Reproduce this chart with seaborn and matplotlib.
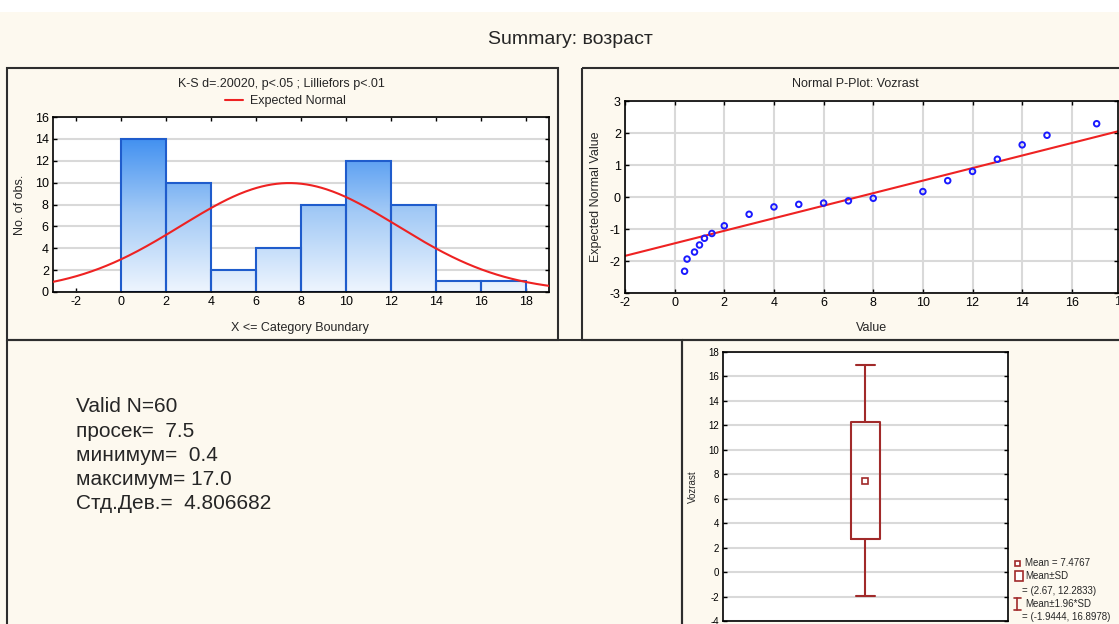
import numpy as np
import matplotlib
matplotlib.use("Agg")
import matplotlib.pyplot as plt
import seaborn as sns
from matplotlib.patches import Rectangle
from matplotlib.lines import Line2D
from matplotlib.colors import LinearSegmentedColormap

# ---------------- data ----------------
bin_edges = [0, 2, 4, 6, 8, 10, 12, 14, 16, 18]
bin_counts = [14, 10, 2, 4, 8, 12, 8, 1, 1]
n_valid = 60
mean_val = 7.4767
sd_val = 4.806682

pp_values = [0.4, 0.5, 0.8, 1.0, 1.2, 1.5, 2, 3, 4, 5, 6, 7, 8, 10, 11, 12, 13, 14, 15, 17]
pp_expected = [-2.32, -1.94, -1.72, -1.50, -1.29, -1.14, -0.90, -0.54, -0.31, -0.23,
               -0.19, -0.12, -0.04, 0.17, 0.51, 0.80, 1.18, 1.63, 1.93, 2.29]
pp_line_x = [-2, 18]
pp_line_y = [-1.84, 2.08]

box_mean = 7.4767
box_sd_range = [2.67, 12.2833]
box_196_range = [-1.9444, 16.8978]

stats_lines = ["Valid N=60", "просек=  7.5", "минимум=  0.4", "максимум= 17.0", "Стд.Дев.=  4.806682"]
legend_lines = ["Mean = 7.4767", "Mean±SD", "= (2.67, 12.2833)", "Mean±1.96*SD", "= (-1.9444, 16.8978)"]

# ---------------- style ----------------
sns.set_style("ticks")
plt.rcParams["font.family"] = ["Liberation Sans", "DejaVu Sans"]
plt.rcParams["axes.unicode_minus"] = False
CREAM = "#fdf9ef"
FRAME = "#2e2e2e"
GRID = "#d9d9d9"
DARKRED = "#a12a2a"

W, H = 1119, 624
fig = plt.figure(figsize=(W / 100, H / 100), dpi=100, facecolor=CREAM)


def px_axes(l, t, r, b, **kw):
    return fig.add_axes([l / W, 1 - b / H, (r - l) / W, (b - t) / H], **kw)


def style_axes(ax, labelsize):
    for s in ax.spines.values():
        s.set_color("black")
        s.set_linewidth(1.2)
    ax.set_facecolor("white")
    ax.tick_params(direction="in", length=3, width=1, top=True, right=True,
                   labelsize=labelsize, pad=3, colors="black")
    ax.set_axisbelow(True)


# background / frames
bg = fig.add_axes([0, 0, 1, 1], zorder=-10)
bg.set_xlim(0, W)
bg.set_ylim(H, 0)
bg.axis("off")
bg.add_patch(Rectangle((0, 0), W, 12, facecolor="white", edgecolor="none"))
for (l, t, r, b) in [(7, 68, 558, 340), (582, 68, W + 5, 340), (7, 340, 682, H + 5), (682, 340, W + 5, H + 5)]:
    bg.add_patch(Rectangle((l, t), r - l, b - t, facecolor="none", edgecolor=FRAME, linewidth=1.5))

fig.text(570 / W, 1 - 40 / H, "Summary: возраст", ha="center", va="center", fontsize=14)

# ---------------- histogram ----------------
ax1 = px_axes(53, 117, 549, 292)
style_axes(ax1, 9)
centers = [(a + b) / 2 for a, b in zip(bin_edges[:-1], bin_edges[1:])]
sns.histplot(x=centers, weights=bin_counts, bins=bin_edges, ax=ax1, stat="count",
             element="bars", fill=True, edgecolor="#1f5ccc", linewidth=1.5, alpha=1)
ax1.yaxis.grid(True, color=GRID, linewidth=1.5)
grad_cmap = LinearSegmentedColormap.from_list("g", ["#eef5fe", "#a3caf6", "#3a8cf0"])
grad = np.linspace(0, 1, 256).reshape(-1, 1)
for p in list(ax1.patches):
    im = ax1.imshow(grad, cmap=grad_cmap, extent=(-3, 19, 0, 14.5), origin="lower",
                    aspect="auto", zorder=1.5, interpolation="bilinear")
    im.set_clip_path(p)
    p.set_facecolor("none")
    p.set_zorder(2)

xs = np.linspace(-3, 19, 400)
binw = bin_edges[1] - bin_edges[0]
ys = n_valid * binw / (sd_val * np.sqrt(2 * np.pi)) * np.exp(-0.5 * ((xs - mean_val) / sd_val) ** 2)
sns.lineplot(x=xs, y=ys, ax=ax1, color="#ee2222", linewidth=1.5, label="Expected Normal", zorder=3)
ax1.set_xlim(-3, 19)
ax1.set_ylim(0, 16)
ax1.set_xticks(range(-2, 19, 2))
ax1.set_yticks(range(0, 17, 2))
ax1.set_xlabel("")
ax1.set_ylabel("")
ax1.legend(loc="center", bbox_to_anchor=(285 / W, 1 - 101 / H), bbox_transform=fig.transFigure,
           frameon=False, fontsize=9, handlelength=1.5, handletextpad=0.5, borderpad=0)
fig.text(281 / W, 1 - 84 / H, "K-S d=.20020, p<.05 ; Lilliefors p<.01", ha="center", va="center", fontsize=9)
fig.text(300 / W, 1 - 328 / H, "X <= Category Boundary", ha="center", va="center", fontsize=9)
fig.text(20 / W, 1 - 205 / H, "No. of obs.", ha="center", va="center", rotation=90, fontsize=9)

# ---------------- normal P-plot ----------------
ax2 = px_axes(625, 101, 1118, 293)
style_axes(ax2, 9)
ax2.grid(True, color=GRID, linewidth=1.5)
sns.lineplot(x=pp_line_x, y=pp_line_y, ax=ax2, color="#ee2222", linewidth=1.5, zorder=2)
sns.scatterplot(x=pp_values, y=pp_expected, ax=ax2, marker="o", s=16, facecolors="none",
                edgecolor="#1a1aff", linewidth=1.4, zorder=3)
ax2.set_xlim(-2, 17.86)
ax2.set_ylim(-3, 3)
ax2.set_xticks(range(-2, 17, 2))
ax2.set_yticks(range(-3, 4, 1))
ax2.set_xlabel("")
ax2.set_ylabel("")
ax2.text(18, -3.1, "18", transform=ax2.transData, ha="center", va="top", fontsize=9, clip_on=False)
fig.text(855 / W, 1 - 84 / H, "Normal P-Plot: Vozrast", ha="center", va="center", fontsize=9)
fig.text(872 / W, 1 - 328 / H, "Value", ha="center", va="center", fontsize=9)
fig.text(596 / W, 1 - 197 / H, "Expected Normal Value", ha="center", va="center", rotation=90, fontsize=9)

# ---------------- stats text ----------------
for i, line in enumerate(stats_lines):
    fig.text(76 / W, 1 - (407 + 24.2 * i) / H, line, ha="left", va="center", fontsize=15)

# ---------------- box plot ----------------
ax3 = px_axes(723, 352, 1008, 621)
style_axes(ax3, 7)
ax3.yaxis.grid(True, color=GRID, linewidth=1.5)
stats = [{"med": box_mean, "mean": box_mean, "q1": box_sd_range[0], "q3": box_sd_range[1],
          "whislo": box_196_range[0], "whishi": box_196_range[1], "fliers": []}]
ax3.bxp(stats, positions=[1], widths=[0.102], capwidths=[0.07], showmeans=True, showfliers=False,
        boxprops=dict(color=DARKRED, linewidth=1.5),
        whiskerprops=dict(color=DARKRED, linewidth=1.5),
        capprops=dict(color=DARKRED, linewidth=1.5),
        medianprops=dict(visible=False),
        meanprops=dict(marker="s", markersize=4, markerfacecolor="white",
                       markeredgecolor=DARKRED, markeredgewidth=1.2))
ax3.set_xlim(0.5, 1.5)
ax3.set_ylim(-4, 18)
ax3.set_yticks(range(-4, 19, 2))
ax3.set_xticks([])
ax3.tick_params(axis="x", top=False, bottom=False)
fig.text(693 / W, 1 - 487 / H, "Vozrast", ha="center", va="center", rotation=90, fontsize=7)

# legend of box plot (drawn in pixel frame)
bg.add_patch(Rectangle((1015, 561), 4.5, 4.5, facecolor="white", edgecolor=DARKRED, linewidth=1.2, zorder=5))
bg.add_patch(Rectangle((1014.5, 571), 8, 10, facecolor="white", edgecolor=DARKRED, linewidth=1.2, zorder=5))
bg.add_line(Line2D([1017, 1017], [598, 610], color=DARKRED, linewidth=1.2, zorder=5))
bg.add_line(Line2D([1013.5, 1020.5], [598, 598], color=DARKRED, linewidth=1.2, zorder=5))
bg.add_line(Line2D([1013.5, 1020.5], [610, 610], color=DARKRED, linewidth=1.2, zorder=5))
leg_pos = [(1025, 563), (1025, 576), (1022, 591), (1025, 604), (1022, 617)]
for (x, y), t in zip(leg_pos, legend_lines):
    bg.text(x, y, t, ha="left", va="center", fontsize=7, zorder=6)

fig.savefig("out.png", dpi=100, facecolor=CREAM)
